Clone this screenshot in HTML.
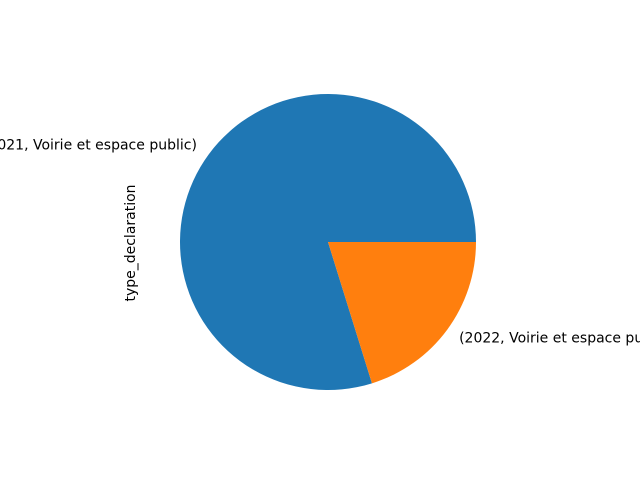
<!DOCTYPE html>
<html><head><meta charset="utf-8"><style>
html,body{margin:0;padding:0;background:#fff;overflow:hidden;}
svg{display:block;font-family:"DejaVu Sans","Liberation Sans",sans-serif;}
</style></head><body>
<svg id="chart" width="640" height="480" viewBox="0 0 640 480">
<rect width="640" height="480" fill="#fff"/>
<g id="slices"></g>
<g id="labels"></g>
<text x="135" y="243" font-size="14" text-anchor="middle" transform="rotate(-90 135 243)">type_declaration</text>
</svg>
<script>
const categories = ["(2021, Voirie et espace public)", "(2022, Voirie et espace public)"];
const values = [79.8, 20.2];
const colors = ["#1f77b4", "#ff7f0e"];
const cx = 328, cy = 242, r = 148;
const ns = "http://www.w3.org/2000/svg";
const total = values.reduce((a,b)=>a+b,0);
let start = 0;
const gS = document.getElementById('slices'), gL = document.getElementById('labels');
values.forEach((v,i)=>{
  const sweep = v/total*2*Math.PI;
  const a0 = start, a1 = start + sweep;
  const x0 = cx + r*Math.cos(a0), y0 = cy - r*Math.sin(a0);
  const x1 = cx + r*Math.cos(a1), y1 = cy - r*Math.sin(a1);
  const large = sweep > Math.PI ? 1 : 0;
  const p = document.createElementNS(ns,'path');
  p.setAttribute('d',`M${cx},${cy} L${x0},${y0} A${r},${r} 0 ${large} 0 ${x1},${y1} Z`);
  p.setAttribute('fill',colors[i]);
  
  
  gS.appendChild(p);
  const mid = (a0+a1)/2;
  const lx = cx + 1.1*r*Math.cos(mid), ly = cy - 1.1*r*Math.sin(mid);
  const t = document.createElementNS(ns,'text');
  t.setAttribute('x',lx); t.setAttribute('y',ly+4);
  t.setAttribute('font-size','14');
  t.setAttribute('text-anchor', Math.cos(mid) < 0 ? 'end' : 'start');
  t.textContent = categories[i];
  
  
  gL.appendChild(t);
  start = a1;
});
</script>
</body></html>
